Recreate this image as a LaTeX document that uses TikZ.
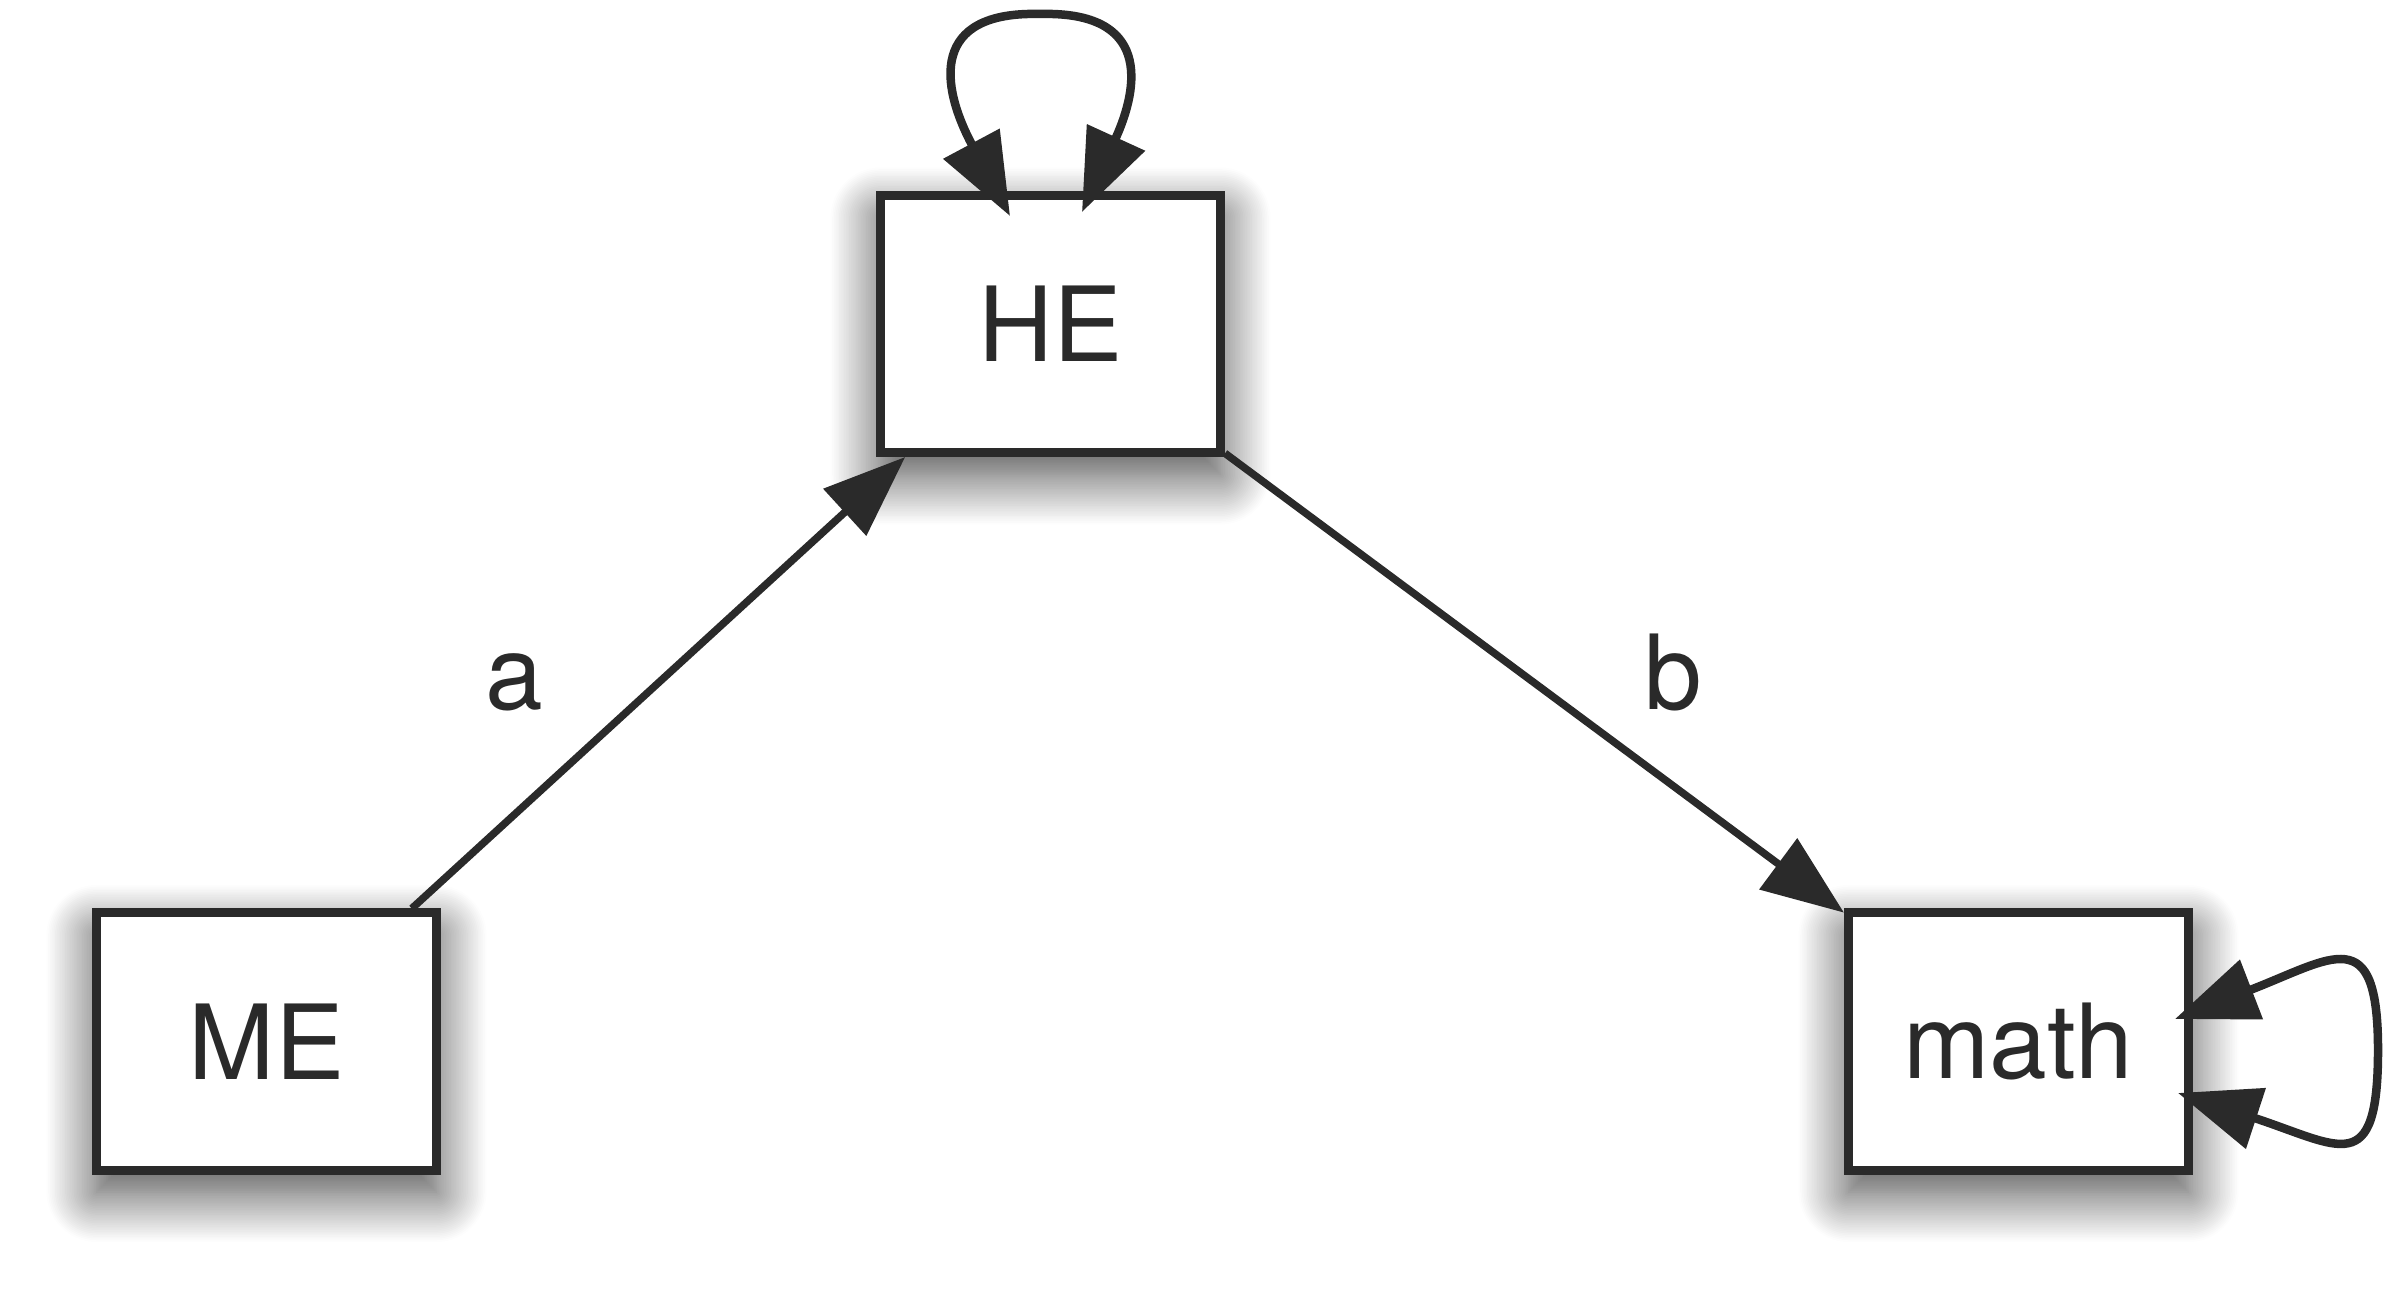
\documentclass[tikz,border=0pt]{standalone}
\usepackage{fontspec}
\setmainfont{TeX Gyre Heros}
\usetikzlibrary{arrows.meta,shadows.blur}
\definecolor{ink}{HTML}{2A2A2A}

\begin{document}
\begin{tikzpicture}[
  var/.style={draw=ink,line width=0.09cm,fill=white,text=ink,
    minimum width=3.40cm,minimum height=2.57cm,inner sep=0pt,
    font=\fontsize{29.5}{35}\selectfont,
    blur shadow={shadow xshift=0cm,shadow yshift=-0.22cm,
      shadow blur radius=0.5cm,shadow blur steps=30,shadow opacity=75}},
  regline/.style={draw=ink,line width=0.075cm,
    -{Triangle[length=0.82cm,width=0.62cm]}},
  varloop/.style={draw=ink,line width=0.085cm,
    {Triangle[length=0.82cm,width=0.62cm]}-{Triangle[length=0.82cm,width=0.62cm]}},
  coef/.style={text=ink,anchor=base,font=\fontsize{29.5}{35}\selectfont}
]
\useasboundingbox (0,0) rectangle (23.88,12.96);

% Variables
\node[var] (HE) at (10.505,9.72) {HE};
\node[var] (ME) at (2.665,2.545) {ME};
\node[var] (math) at (20.185,2.545) {math};

% Paths
\draw[regline] (ME) -- (HE) node[coef,midway,xshift=-1.445cm,yshift=-0.263cm] {a};
\draw[regline] (HE) -- (math) node[coef,midway,xshift=1.385cm,yshift=-0.263cm] {b};

% Variances
\draw[varloop] ([shift={(-0.405,-0.25)}]HE.north)
  .. controls +(-0.70,1.31) and +(-1.10,0.03) .. ([shift={(-0.105,1.77)}]HE.north)
  .. controls +(1.10,0.03) and +(0.58,1.27) .. ([shift={(0.315,-0.21)}]HE.north);
\draw[varloop] ([shift={(-0.18,0.225)}]math.east)
  .. controls +(1.58,0.61) and +(0,1.3) .. ([shift={(1.85,-0.085)}]math.east)
  .. controls +(0,-1.3) and +(1.62,-0.53) .. ([shift={(-0.15,-0.515)}]math.east);
\end{tikzpicture}
\end{document}
